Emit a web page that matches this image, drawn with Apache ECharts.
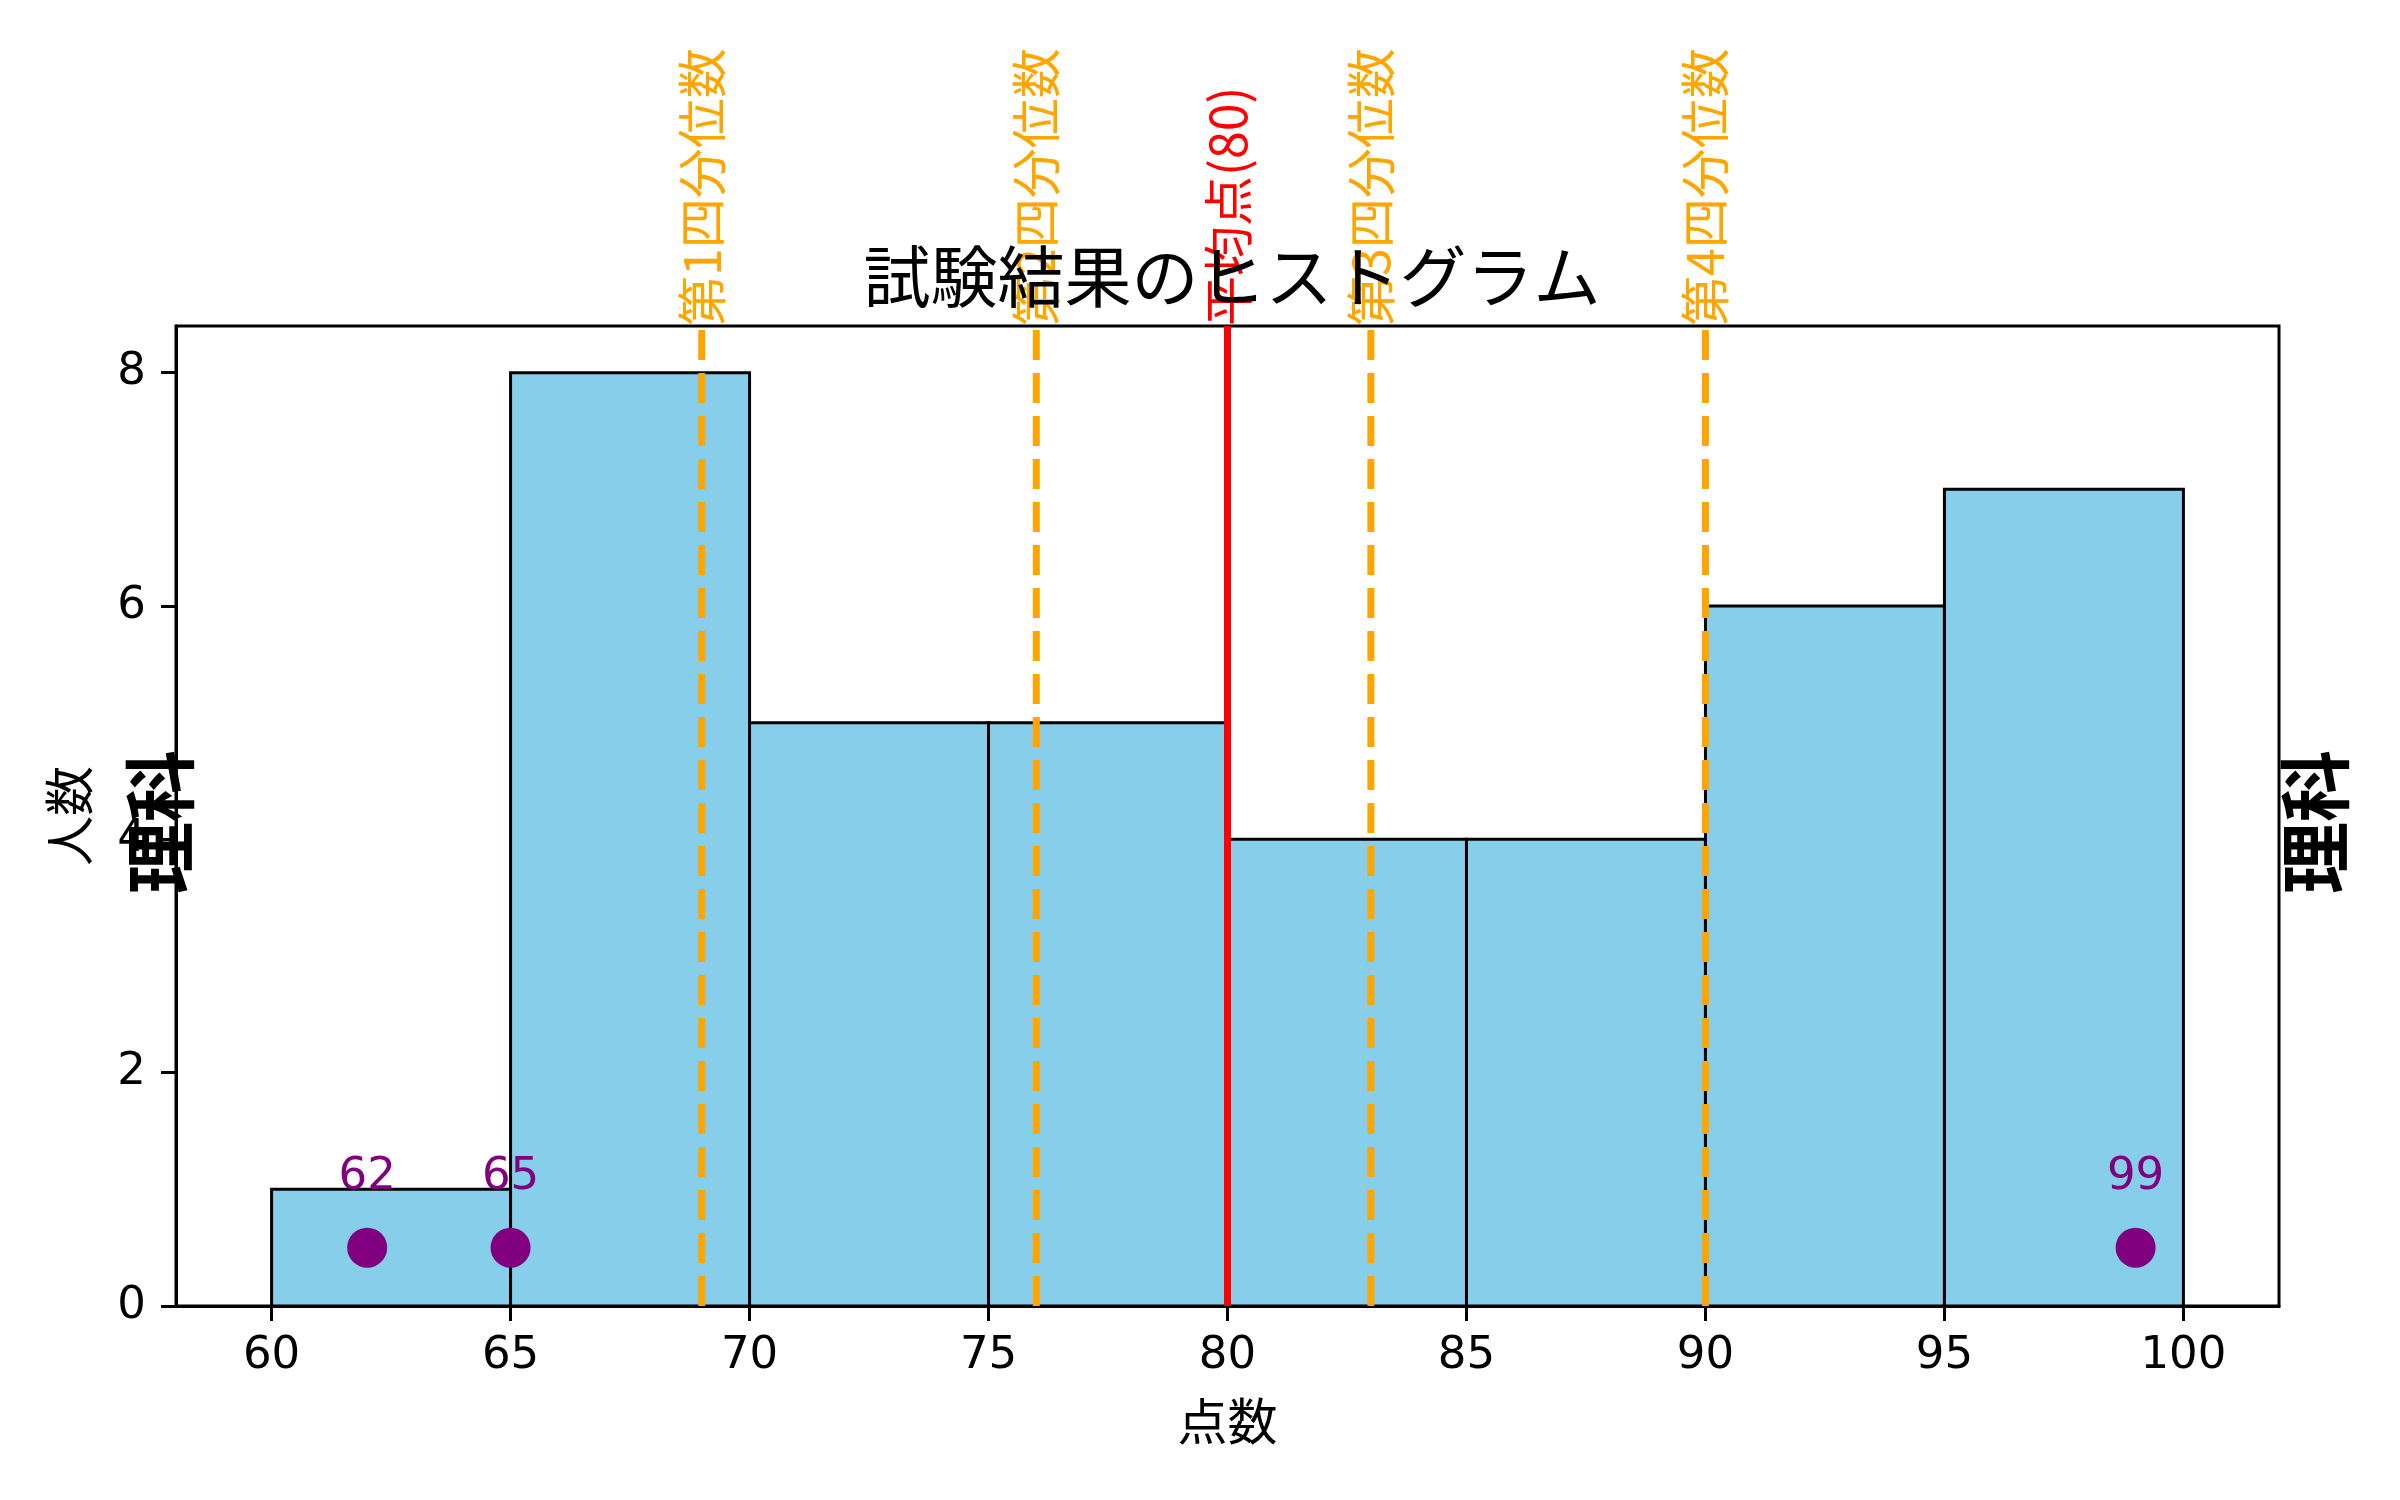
<!DOCTYPE html>
<html>
<head>
<meta charset="utf-8">
<script src="https://cdn.jsdelivr.net/npm/echarts@6/dist/echarts.min.js"></script>
<style>html,body{margin:0;padding:0;background:#fff}#c{width:2400px;height:1500px}</style>
</head>
<body>
<div id="c"></div>
<script>
const binEdges = [60, 65, 70, 75, 80, 85, 90, 95, 100];
const counts = [1, 8, 5, 5, 4, 4, 6, 7];
const quantileValues = [69, 76, 83, 90];
const quantileLabels = ['第1四分位数', '第2四分位数', '第3四分位数', '第4四分位数'];
const meanValue = 80;
const meanLabel = '平均点(80)';
const highlightScores = [62, 65, 99];
const highlightY = 0.5;
const xTicks = [60, 65, 70, 75, 80, 85, 90, 95, 100];
const yTicks = [0, 2, 4, 6, 8];
const xRange = [58, 102];
const yRange = [0, 8.4];
const titleText = '試験結果のヒストグラム';
const xName = '点数';
const yName = '人数';
const sideText = '理科';

const FONT = '"Noto Sans CJK JP", "Noto Sans", sans-serif';
const NUMFONT = '"DejaVu Sans", sans-serif';
const chart = echarts.init(document.getElementById('c'), null, {renderer: 'canvas'});

const histData = counts.map((c, i) => [binEdges[i], binEdges[i + 1], c]);
const lineData = quantileValues.map((v, i) => [v, quantileLabels[i], 'q']).concat([[meanValue, meanLabel, 'm']]);

function renderBar(params, api) {
  const p0 = api.coord([api.value(0), api.value(2)]);
  const p1 = api.coord([api.value(1), 0]);
  return {
    type: 'rect',
    shape: {x: p0[0], y: p0[1], width: p1[0] - p0[0], height: p1[1] - p0[1]},
    style: {fill: '#87CEEB', stroke: '#000', lineWidth: 3}
  };
}

function renderVLine(params, api) {
  const idx = params.dataIndex;
  const item = lineData[idx];
  const x = api.coord([item[0], 0])[0];
  const cs = params.coordSys;
  const top = cs.y, bottom = cs.y + cs.height;
  const isMean = item[2] === 'm';
  const color = isMean ? '#FF0000' : '#FFA500';
  return {
    type: 'group',
    children: [
      {
        type: 'line',
        shape: {x1: x, y1: bottom, x2: x, y2: top},
        style: {stroke: color, lineWidth: 7, lineDash: isMean ? null : [30, 13], lineCap: 'butt'}
      },
      {
        type: 'text',
        x: x, y: top,
        rotation: Math.PI / 2,
        style: {text: item[1], fill: color, font: '50px ' + FONT, align: 'left', verticalAlign: 'middle'}
      }
    ]
  };
}

const option = {
  backgroundColor: '#fff',
  animation: false,
  title: {
    text: titleText,
    left: 1227,
    top: 238,
    textAlign: 'center',
    textStyle: {fontFamily: FONT, fontSize: 67, fontWeight: 'normal', color: '#000'}
  },
  grid: {
    left: 176, right: 121, top: 326, bottom: 194,
    show: true, borderColor: '#000', borderWidth: 3, backgroundColor: 'transparent'
  },
  xAxis: {
    type: 'value',
    min: xRange[0], max: xRange[1],
    name: xName, nameLocation: 'middle', nameGap: 90,
    nameTextStyle: {fontFamily: FONT, fontSize: 50, color: '#000'},
    axisLine: {show: true, onZero: false, lineStyle: {color: '#000', width: 3}},
    axisTick: {show: true, length: 15, lineStyle: {color: '#000', width: 3}, customValues: xTicks},
    axisLabel: {fontFamily: NUMFONT, fontSize: 45, color: '#000', margin: 28, customValues: xTicks},
    splitLine: {show: false}
  },
  yAxis: {
    type: 'value',
    min: yRange[0], max: yRange[1],
    name: yName, nameLocation: 'middle', nameGap: 82,
    nameTextStyle: {fontFamily: FONT, fontSize: 50, color: '#000'},
    axisLine: {show: true, onZero: false, lineStyle: {color: '#000', width: 3}},
    axisTick: {show: true, length: 15, lineStyle: {color: '#000', width: 3}, customValues: yTicks},
    axisLabel: {fontFamily: NUMFONT, fontSize: 45, color: '#000', margin: 30, customValues: yTicks},
    splitLine: {show: false}
  },
  series: [
    {
      type: 'custom', name: 'hist', renderItem: renderBar, data: histData,
      encode: {x: [0, 1], y: 2}, z: 2, clip: false
    },
    {
      type: 'custom', name: 'lines', renderItem: renderVLine,
      data: lineData.map(d => [d[0], 0]),
      encode: {x: 0, y: 1}, z: 3, clip: false
    },
    {
      type: 'scatter', name: 'scores',
      data: highlightScores.map(s => [s, highlightY]),
      symbolSize: 40, z: 4,
      itemStyle: {color: '#800080', opacity: 1},
      label: {
        show: true, position: 'top', distance: 28,
        formatter: p => String(p.value[0]),
        fontFamily: NUMFONT, fontSize: 45, color: '#800080'
      }
    }
  ],
  graphic: [
    {
      type: 'text', x: 160, y: 822, rotation: Math.PI / 2, z: 100,
      style: {text: sideText, font: 'bold 72px ' + FONT, fill: '#000', align: 'center', verticalAlign: 'middle'}
    },
    {
      type: 'text', x: 2315, y: 822, rotation: Math.PI / 2, z: 100,
      style: {text: sideText, font: 'bold 72px ' + FONT, fill: '#000', align: 'center', verticalAlign: 'middle'}
    }
  ]
};
chart.setOption(option);
</script>
</body>
</html>
